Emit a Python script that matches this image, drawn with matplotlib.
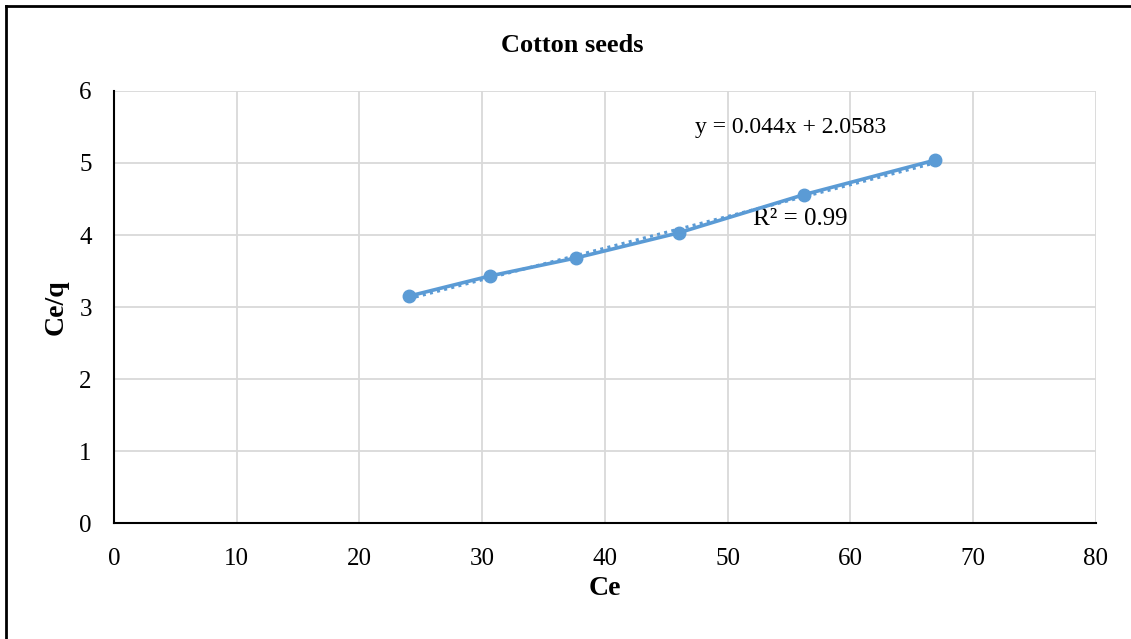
import numpy as np
import matplotlib.pyplot as plt
from matplotlib.lines import Line2D

# data
ce = [24.0, 30.6, 37.6, 46.0, 56.2, 66.9]
ce_q = [3.15, 3.43, 3.68, 4.03, 4.56, 5.04]

# trendline given on the chart
slope = 0.044
intercept = 2.0583
r2 = 0.99

blue = "#5B9BD5"
plt.rcParams['font.family'] = ['Liberation Serif', 'DejaVu Serif']

fig = plt.figure(figsize=(11.31, 6.39), dpi=100)
ax = fig.add_axes([0.1008, 0.1815, 0.8682, 0.6761])

# trendline (dotted), then the data line with markers
tx = np.array([min(ce), max(ce)])
ax.plot(tx, slope * tx + intercept, color=blue, lw=2.2, linestyle=(0, (1, 1.4)), zorder=3)
ax.plot(ce, ce_q, color=blue, lw=2.6, marker="o", markersize=9, zorder=4)

ax.set_xlim(0, 80)
ax.set_ylim(0, 6)
ax.set_xticks(range(0, 81, 10))
ax.set_yticks(range(0, 7))
ax.grid(True, color="#D9D9D9", lw=1.3)
ax.set_axisbelow(True)
for s in ["top", "right"]:
    ax.spines[s].set_visible(False)
ax.spines["left"].set_linewidth(1.5)
ax.spines["bottom"].set_linewidth(1.5)
ax.tick_params(length=0, labelsize=18)
ax.tick_params(axis="x", pad=18)
ax.tick_params(axis="y", pad=16)

ax.set_xlabel("Ce", fontsize=20, fontweight="bold", labelpad=4)
ax.set_ylabel("Ce/q", fontsize=20, fontweight="bold", labelpad=8)
fig.text(0.506, 1 - 46 / 639, "Cotton seeds", fontsize=19, fontweight="bold", ha="center", va="center")

ax.text(47.3, 5.49, "y = 0.044x + 2.0583", fontsize=17, va="center", ha="left")
ax.text(52.1, 4.22, "R² = 0.99", fontsize=18, va="center", ha="left")

# frame around the picture (left and top edges visible)
fig.add_artist(Line2D([6 / 1131, 6 / 1131], [0, 1 - 6 / 639], color="black", lw=2, transform=fig.transFigure))
fig.add_artist(Line2D([6 / 1131, 1], [1 - 6 / 639, 1 - 6 / 639], color="black", lw=2, transform=fig.transFigure))

fig.savefig("out.png", dpi=100)
